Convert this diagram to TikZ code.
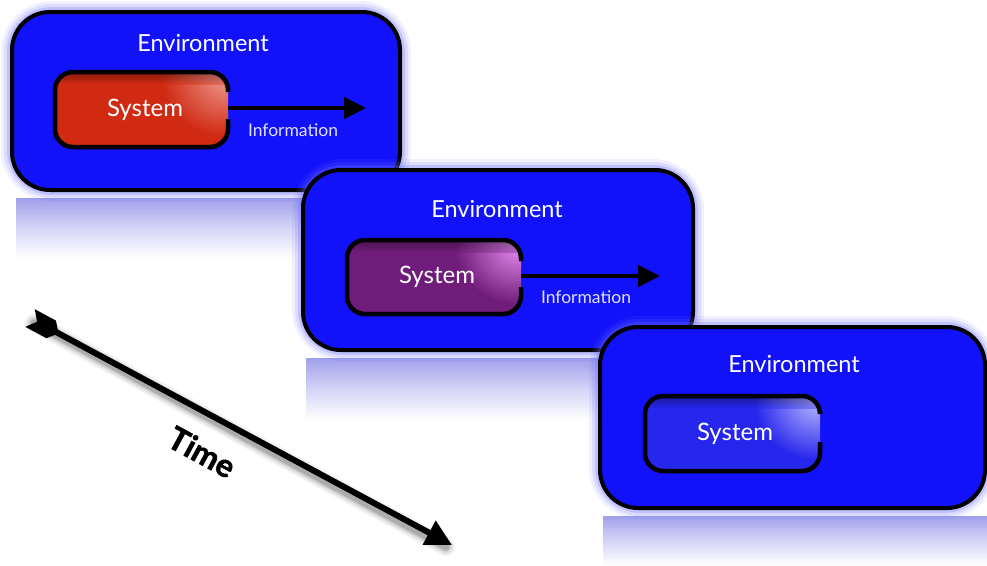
\documentclass[tikz,border=0pt]{standalone}
\usepackage{fontspec}
\setmainfont{Lato}
\newfontfamily\timefont{Lato}[BoldFeatures={FakeBold=1.6}]
\usetikzlibrary{arrows.meta,calc}
\definecolor{envblue}{RGB}{18,18,250}
\definecolor{glowblue}{RGB}{110,110,255}
\definecolor{reflblue}{RGB}{160,160,236}
\definecolor{redbase}{RGB}{208,42,18}
\definecolor{redhl}{RGB}{236,150,140}
\definecolor{purbase}{RGB}{112,28,122}
\definecolor{purhl}{RGB}{228,140,238}
\definecolor{blubase}{RGB}{38,38,236}
\definecolor{bluhl}{RGB}{180,180,255}
\tikzset{
  envbox/.style={draw=black, line width=4pt, fill=envblue, rounded corners=38pt, inner sep=0pt},
  envlabel/.style={text=white, font=\fontsize{23.5}{26}\selectfont},
  syslabel/.style={text=white, font=\fontsize{24}{27}\selectfont},
  infolabel/.style={text=white!88!blue, font=\fontsize{17.5}{20}\selectfont},
  infoarrow/.style={line width=4.5pt, -{Triangle[length=22pt,width=21pt]}},
  sysedge/.style={draw=black, line width=4.5pt, rounded corners=18pt},
  glow/.style={draw=glowblue, rounded corners=40pt},
  refl/.style={top color=reflblue, bottom color=white, middle color=reflblue!45!white}
}
% #1 x1, #2 y1, #3 x2, #4 y2, #5 gap top, #6 gap bottom, #7 base, #8 highlight
\newcommand{\mysysbox}[8]{%
  \begin{scope}
    \clip[rounded corners=18pt] (#1,#2) rectangle (#3,#4);
    \fill[#7] (#1,#2) rectangle (#3,#4);
    \shade[inner color=#8, outer color=#7] (#3-4,#2+6) ellipse (62 and 58);
    \shade[top color=black, bottom color=#7, opacity=0.35] (#1,#2) rectangle (#3,#2+12);
  \end{scope}
  \draw[sysedge] (#3,#6) -- (#3,#4) -- (#1,#4) -- (#1,#2) -- (#3,#2) -- (#3,#5);
}
% glow layers round a box: #1 x1, #2 y1, #3 x2, #4 y2
\newcommand{\myglow}[4]{%
  \foreach \w/\o in {22/0.10, 16/0.15, 10/0.25} {
    \draw[glow, line width=\w pt, opacity=\o] (#1,#2) rectangle (#3,#4);
  }
}
\begin{document}
\begin{tikzpicture}[x=1pt,y=-1pt]
\useasboundingbox (0,0) rectangle (987,565);
\fill[white] (0,0) rectangle (987,565);

% ---------- panel 1 ----------
\shade[refl] (16,198) rectangle (400,258);
\myglow{12}{12}{400}{190}
\node[envbox, minimum width=388pt, minimum height=178pt] (env1) at (206,101) {};
\node[envlabel] (env1lbl) at (203,43) {Environment};
\mysysbox{55}{72}{228}{147}{92}{119}{redbase}{redhl}
\node[syslabel] (sys1) at (145,110) {System};
\coordinate (s1out) at (228,108);
\coordinate (a1end) at (366,108);
\draw[infoarrow] (s1out) -- (a1end);
\node[infolabel] (info1) at (293,130) {Information};

% ---------- panel 2 ----------
\shade[refl] (306,358) rectangle (693,420);
\myglow{303}{170}{693}{350}
\node[envbox, minimum width=390pt, minimum height=180pt] (env2) at (498,260) {};
\node[envlabel] (env2lbl) at (497,209) {Environment};
\mysysbox{347}{240}{521}{314}{261}{287}{purbase}{purhl}
\node[syslabel] (sys2) at (437,277) {System};
\coordinate (s2out) at (521,276);
\coordinate (a2end) at (660,276);
\draw[infoarrow] (s2out) -- (a2end);
\node[infolabel] (info2) at (586,297) {Information};

% ---------- panel 3 ----------
\shade[refl] (603,516) rectangle (987,565);
\myglow{600}{327}{985}{508}
\node[envbox, minimum width=385pt, minimum height=181pt] (env3) at (792.5,417.5) {};
\node[envlabel] (env3lbl) at (794,364) {Environment};
\mysysbox{645}{396}{820}{471}{411}{442}{blubase}{bluhl}
\node[syslabel] (sys3) at (735,434) {System};

% ---------- time arrow ----------
\coordinate (t0) at (30,318);
\coordinate (t1) at (452,545);
\foreach \w/\o in {18/0.05, 14/0.07, 10/0.10, 7/0.14} {
  \draw[black, line width=\w pt, opacity=\o, line cap=round] ($(t0)+(4,5)$) -- ($(t1)+(-6,2)$);
}
\draw[line width=6pt, -{Triangle[length=26pt,width=26pt]}] ($(t0)!14pt!(t1)$) -- (t1);
\fill[black]
  ($(t0)!10pt!90:(t1)$) --
  ($($(t0)!24pt!(t1)$)!10pt!90:(t1)$) --
  ($($(t0)!30pt!(t1)$)!3pt!90:(t1)$) --
  ($($(t0)!30pt!(t1)$)!3pt!-90:(t1)$) --
  ($($(t0)!24pt!(t1)$)!10pt!-90:(t1)$) --
  ($(t0)!10pt!-90:(t1)$) --
  ($(t0)!8pt!(t1)$) -- cycle;
\node[font=\fontsize{32}{34}\selectfont\timefont\bfseries, rotate=-28.5, text=black] (time) at (202,452) {Time};
\end{tikzpicture}
\end{document}
